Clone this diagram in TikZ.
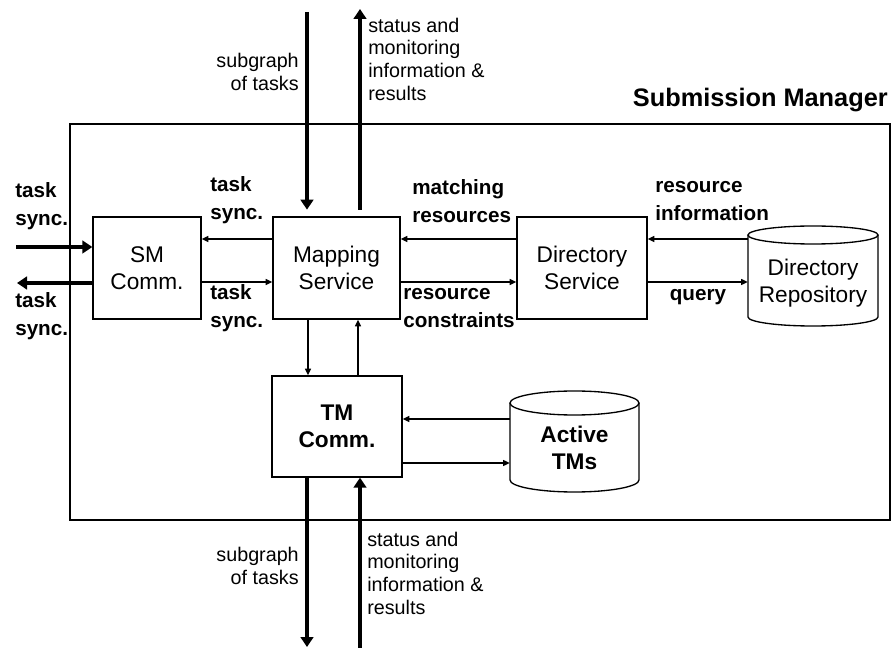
\documentclass[tikz,border=0pt]{standalone}
\usepackage{fontspec}
\setmainfont{Liberation Sans}
\usetikzlibrary{arrows.meta}
\begin{document}
\begin{tikzpicture}[x=0.75pt,y=-0.75pt,
  box/.style={draw, line width=1pt, minimum height=76.5pt, inner sep=0pt,
    align=center, font=\fontsize{17}{20}\selectfont},
  cyltext/.style={inner sep=0pt, align=center, minimum height=60pt,
    font=\fontsize{17}{20}\selectfont},
  lbl/.style={inner sep=0pt, align=left, font=\bfseries\fontsize{15.5}{21}\selectfont},
  flow/.style={inner sep=0pt, font=\fontsize{14.8}{17}\selectfont},
  link/.style={line width=1pt, -{Triangle[length=5pt,width=4.5pt]}},
  bigarrow/.style={line width=3pt, -{Triangle[length=7.5pt,width=9.5pt]}},
  cyl/.style={line width=1pt}]
\useasboundingbox (0,0) rectangle (893,648);

% frame of the manager
\draw[line width=2.2pt] (70,124) rectangle (890,520);
\node[anchor=east, inner sep=0pt, font=\bfseries\fontsize{19}{22}\selectfont]
  (title) at (888,100) {Submission Manager};

% components
\node[box, minimum width=81pt] (sm) at (147,268) {SM\\Comm.};
\node[box, minimum width=95.25pt] (map) at (336.5,268) {Mapping\\Service};
\node[box, minimum width=97.5pt] (dir) at (582,268) {Directory\\Service};
\node[box, minimum width=97.5pt, minimum height=75.75pt,
  font=\bfseries\fontsize{17}{20}\selectfont] (tm) at (337,426.5) {TM\\Comm.};

% repositories
\draw[cyl] (748,235) -- (748,317)
  arc[start angle=180, end angle=360, x radius=48.75pt, y radius=6.75pt] -- (878,235);
\draw[cyl] (813,235) ellipse[x radius=48.75pt, y radius=6.75pt];
\node[cyltext, minimum width=97.5pt] (repo) at (813,283) {Directory\\Repository};

\draw[cyl] (510,403) -- (510,480)
  arc[start angle=180, end angle=360, x radius=48.375pt, y radius=9pt] -- (639,403);
\draw[cyl] (574.5,403) ellipse[x radius=48.375pt, y radius=9pt];
\node[cyltext, minimum width=96.75pt, font=\bfseries\fontsize{17}{20}\selectfont]
  (active) at (574.5,448) {Active\\TMs};

% internal links
\draw[link] (map.west |- 0,239) -- (sm.east |- 0,239);
\draw[link] (sm.east |- 0,282) -- (map.west |- 0,282);
\draw[link] (dir.west |- 0,239) -- (map.east |- 0,239);
\draw[link] (map.east |- 0,282) -- (dir.west |- 0,282);
\draw[link] (repo.west |- 0,239) -- (dir.east |- 0,239);
\draw[link] (dir.east |- 0,282) -- (repo.west |- 0,282);
\draw[link] (map.south -| 308,0) -- (tm.north -| 308,0);
\draw[link] (tm.north -| 358,0) -- (map.south -| 358,0);
\draw[link] (active.west |- 0,419) -- (tm.east |- 0,419);
\draw[link] (tm.east |- 0,463) -- (active.west |- 0,463);

% link labels
\node[lbl, anchor=west] (l1) at (210,200) {task\\sync.};
\node[lbl, anchor=west] (l2) at (210,308) {task\\sync.};
\node[lbl, anchor=west] (l3) at (412,201) {matching\\resources};
\node[lbl, anchor=west] (l4) at (403,308) {resource\\constraints};
\node[lbl, anchor=west] (l5) at (655,201) {resource\\information};
\node[lbl] (l6) at (698,297) {query};

% external flows
\coordinate (inL) at (16,247);
\coordinate (outL) at (17,283);
\draw[bigarrow] (inL) -- (sm.west |- inL);
\draw[bigarrow] (sm.west |- outL) -- (outL);
\node[lbl, anchor=west] (l7) at (15,206) {task\\sync.};
\node[lbl, anchor=west] (l8) at (15,316) {task\\sync.};

\coordinate (topIn) at (307,12);
\coordinate (topOut) at (360,9);
\draw[bigarrow, shorten >=5pt] (topIn) -- (map.north -| topIn);
\draw[bigarrow, shorten <=5pt] (map.north -| topOut) -- (topOut);
\node[flow, anchor=east, align=right] (f1) at (299,72) {subgraph\\of tasks};
\node[flow, anchor=west, align=left] (f2) at (368,59)
  {status and\\monitoring\\information \&\\results};

\coordinate (botOut) at (307,647);
\coordinate (botIn) at (360,648);
\draw[bigarrow] (tm.south -| botOut) -- (botOut);
\draw[bigarrow] (botIn) -- (tm.south -| botIn);
\node[flow, anchor=east, align=right] (f3) at (299,566) {subgraph\\of tasks};
\node[flow, anchor=west, align=left] (f4) at (367,573)
  {status and\\monitoring\\information \&\\results};
\end{tikzpicture}
\end{document}
